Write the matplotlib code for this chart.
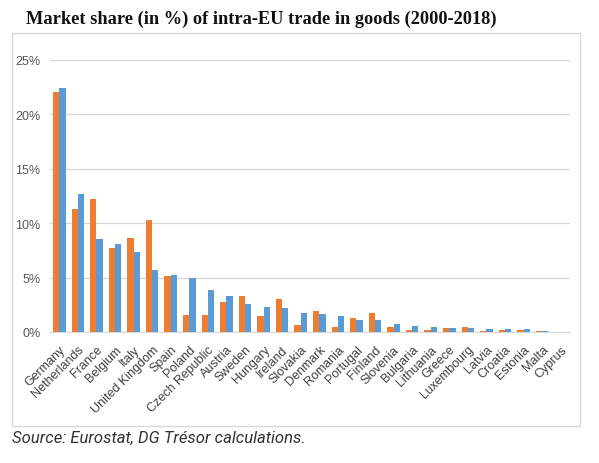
import numpy as np
import matplotlib.pyplot as plt
from matplotlib.patches import Rectangle

# Parts de marché (%) du commerce intra-UE, 2000 (orange) et 2018 (bleu)
pays = ['Germany', 'Netherlands', 'France', 'Belgium', 'Italy', 'United Kingdom',
        'Spain', 'Poland', 'Czech Republic', 'Austria', 'Sweden', 'Hungary',
        'Ireland', 'Slovakia', 'Denmark', 'Romania', 'Portugal', 'Finland',
        'Slovenia', 'Bulgaria', 'Lithuania', 'Greece', 'Luxembourg', 'Latvia',
        'Croatia', 'Estonia', 'Malta', 'Cyprus']
part_2000 = [22.0, 11.25, 12.2, 7.75, 8.65, 10.25, 5.1, 1.57, 1.56, 2.72, 3.27, 1.44,
             3.0, 0.61, 1.93, 0.46, 1.31, 1.74, 0.43, 0.21, 0.18, 0.40, 0.46, 0.09,
             0.15, 0.21, 0.05, 0.04]
part_2018 = [22.4, 12.7, 8.55, 8.05, 7.3, 5.7, 5.25, 4.93, 3.88, 3.30, 2.57, 2.32,
             2.23, 1.74, 1.65, 1.47, 1.10, 1.12, 0.76, 0.52, 0.49, 0.40, 0.40, 0.28,
             0.28, 0.28, 0.05, 0.04]

fig = plt.figure(figsize=(5.99, 4.64), dpi=100)
ax = fig.add_axes([50/599, 1 - 333/464, 520/599, (333 - 60.7)/464])

x = np.arange(len(pays))
largeur = 0.335
ax.bar(x - largeur/2, part_2000, largeur, color='#ED7D31', zorder=3)
ax.bar(x + largeur/2, part_2018, largeur, color='#5B9BD5', zorder=3)

ax.set_xlim(-0.5, len(pays) - 0.5)
ax.set_ylim(0, 25)
ax.set_yticks(range(0, 26, 5))
ax.set_yticklabels([f'{v}%' for v in range(0, 26, 5)])
ax.yaxis.grid(True, color='#d9d9d9', linewidth=1, zorder=0)
ax.tick_params(axis='y', length=0, pad=7, labelsize=9, labelcolor='#595959')
ax.tick_params(axis='x', length=0, pad=8, labelsize=9, labelcolor='#404040')
ax.set_xticks(x)
ax.set_xticklabels(pays, rotation=45, ha='right', rotation_mode='anchor',
                   family='Liberation Sans')
for lbl in ax.get_yticklabels():
    lbl.set_family('Liberation Sans')
for s in ['top', 'right', 'left']:
    ax.spines[s].set_visible(False)
ax.spines['bottom'].set_color('#d9d9d9')

# cadre du graphique
fig.patches.append(Rectangle((12/599, 1 - 427/464), 568/599, 393/464,
                             transform=fig.transFigure, fill=False,
                             edgecolor='#d9d9d9', linewidth=1))

fig.text(261/599, 1 - 19/464, 'Market share (in %) of intra-EU trade in goods (2000-2018)',
         ha='center', va='center', fontsize=13.2, fontweight='bold',
         family='Liberation Serif', color='#111111')
fig.text(12/599, 1 - 438/464, 'Source: Eurostat, DG Trésor calculations.',
         ha='left', va='center', fontsize=12, style='italic',
         family='Roboto', color='#333333')

fig.savefig('out.png', dpi=100)
